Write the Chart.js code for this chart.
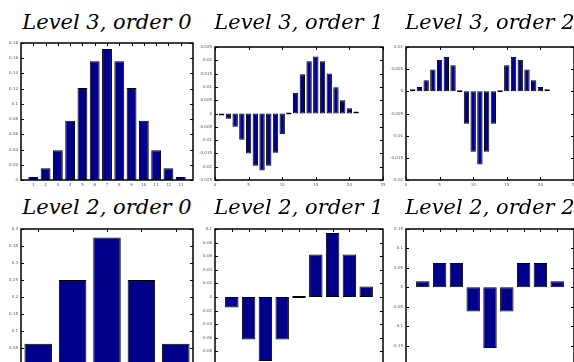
<!DOCTYPE html>
<html>
<head>
<meta charset="utf-8">
<script src="https://cdn.jsdelivr.net/npm/chart.js@4.4.1/dist/chart.umd.min.js"></script>
<style>
  html, body { margin: 0; padding: 0; width: 574px; height: 362px; overflow: hidden; background: #fff; }
  canvas { position: absolute; }
  .title {
    position: absolute;
    font-family: "DejaVu Serif", serif;
    font-style: italic;
    font-size: 21px;
    line-height: 21px;
    white-space: nowrap;
    transform: translateX(-50%);
    color: #000;
  }
</style>
</head>
<body>
<script>
// positions of the bars
const pos13 = [1, 2, 3, 4, 5, 6, 7, 8, 9, 10, 11, 12, 13]
const pos21 = [1, 2, 3, 4, 5, 6, 7, 8, 9, 10, 11, 12, 13, 14, 15, 16, 17, 18, 19, 20, 21]
const pos5 = [1, 2, 3, 4, 5]
const pos9 = [1, 2, 3, 4, 5, 6, 7, 8, 9]

// bar heights
const level3Order0 = [0.0039, 0.0156, 0.039, 0.078, 0.121, 0.156, 0.172, 0.156, 0.121, 0.078, 0.039, 0.0156, 0.0039]
const level3Order1 = [-0.0006, -0.002, -0.005, -0.0099, -0.015, -0.0196, -0.0214, -0.0196, -0.0148, -0.0078, 0,
                      0.0078, 0.0148, 0.0196, 0.0214, 0.0196, 0.015, 0.0099, 0.005, 0.002, 0.0006]
const level3Order2 = [0.0004, 0.001, 0.0025, 0.0049, 0.0071, 0.0078, 0.0059, 0, -0.0073, -0.0136, -0.0165,
                      -0.0136, -0.0073, 0, 0.0059, 0.0078, 0.0071, 0.0049, 0.0025, 0.001, 0.0004]
const level2Order0 = [0.0625, 0.25, 0.375, 0.25, 0.0625]
const level2Order1 = [-0.0156, -0.0625, -0.094, -0.0625, 0, 0.0625, 0.094, 0.0625, 0.0156]
const level2Order2 = [0.0156, 0.0625, 0.0625, -0.0625, -0.156, -0.0625, 0.0625, 0.0625, 0.0156]

// tick labels
const xTicks13 = [1, 2, 3, 4, 5, 6, 7, 8, 9, 10, 11, 12, 13]
const xTicks25 = [0, 5, 10, 15, 20, 25]
const xTicks5 = [1, 2, 3, 4, 5]
const xTicks9 = [1, 2, 3, 4, 5, 6, 7, 8, 9]
const yTicksL3o0 = [0, 0.02, 0.04, 0.06, 0.08, 0.1, 0.12, 0.14, 0.16, 0.18]
const yTicksL3o1 = [-0.025, -0.02, -0.015, -0.01, -0.005, 0, 0.005, 0.01, 0.015, 0.02, 0.025]
const yTicksL3o2 = [-0.02, -0.015, -0.01, -0.005, 0, 0.005, 0.01]
const yTicksL2o0 = [0, 0.05, 0.1, 0.15, 0.2, 0.25, 0.3, 0.35, 0.4]
const yTicksL2o1 = [-0.1, -0.08, -0.06, -0.04, -0.02, 0, 0.02, 0.04, 0.06, 0.08, 0.1]
const yTicksL2o2 = [-0.2, -0.15, -0.1, -0.05, 0, 0.05, 0.1, 0.15]

const titles = ['Level 3, order 0', 'Level 3, order 1', 'Level 3, order 2',
                'Level 2, order 0', 'Level 2, order 1', 'Level 2, order 2']

const plots = [
  { xs: pos13, ys: level3Order0, xLim: [0, 14], yLim: [0, 0.18], xTicks: xTicks13, yTicks: yTicksL3o0 },
  { xs: pos21, ys: level3Order1, xLim: [0, 25], yLim: [-0.025, 0.025], xTicks: xTicks25, yTicks: yTicksL3o1 },
  { xs: pos21, ys: level3Order2, xLim: [0, 25], yLim: [-0.02, 0.01], xTicks: xTicks25, yTicks: yTicksL3o2 },
  { xs: pos5, ys: level2Order0, xLim: [0.5, 5.5], yLim: [0, 0.4], xTicks: xTicks5, yTicks: yTicksL2o0 },
  { xs: pos9, ys: level2Order1, xLim: [0, 10], yLim: [-0.1, 0.1], xTicks: xTicks9, yTicks: yTicksL2o1 },
  { xs: pos9, ys: level2Order2, xLim: [0, 10], yLim: [-0.2, 0.15], xTicks: xTicks9, yTicks: yTicksL2o2 },
]

// plot boxes on the page: left, top, right, bottom
const boxes = [
  [21, 43, 193, 180], [215, 47, 383, 180], [406, 47, 574, 180],
  [21, 229, 193, 365], [215, 229, 383, 365], [406, 229, 574, 365],
]
const titleY = [12, 12, 12, 197, 197, 197]

const YW = 22   // room for the y labels
const XH = 10   // room for the x labels
const PAD = 6

// matplotlib style frame with ticks pointing inwards on all sides
const frame = {
  id: 'frame',
  afterDatasetsDraw(chart) {
    const { ctx, chartArea: a, scales: { x, y } } = chart
    const line = (x1, y1, x2, y2) => { ctx.beginPath(); ctx.moveTo(x1, y1); ctx.lineTo(x2, y2); ctx.stroke() }
    ctx.save()
    ctx.strokeStyle = '#000'
    ctx.lineWidth = 1
    x.ticks.forEach(t => {
      const px = Math.round(x.getPixelForValue(t.value)) + 0.5
      line(px, a.top, px, a.top + 3)
      line(px, a.bottom, px, a.bottom - 3)
    })
    y.ticks.forEach(t => {
      const py = Math.round(y.getPixelForValue(t.value)) + 0.5
      line(a.left, py, a.left + 3, py)
      line(a.right, py, a.right - 3, py)
    })
    ctx.lineWidth = 1.5
    ctx.strokeRect(a.left, a.top, a.right - a.left, a.bottom - a.top)
    ctx.restore()
  }
}

const fmt = v => String(parseFloat(Number(v).toFixed(6)))

plots.forEach((p, i) => {
  const [l, t, r, b] = boxes[i]
  const canvas = document.createElement('canvas')
  canvas.width = (r - l) + YW + PAD
  canvas.height = (b - t) + PAD + XH
  canvas.style.left = (l - YW) + 'px'
  canvas.style.top = (t - PAD) + 'px'
  document.body.appendChild(canvas)

  const title = document.createElement('div')
  title.className = 'title'
  title.textContent = titles[i]
  title.style.left = ((l + r) / 2) + 'px'
  title.style.top = titleY[i] + 'px'
  document.body.appendChild(title)

  const tickFont = { family: 'DejaVu Sans', size: 4 }

  new Chart(canvas, {
    type: 'bar',
    data: {
      datasets: [{
        data: p.xs.map((x, k) => ({ x, y: p.ys[k] })),
        backgroundColor: '#00008b',
        borderColor: '#000',
        borderWidth: 1,
        borderSkipped: false,
        barPercentage: 0.8,
        categoryPercentage: 1,
        minBarLength: 2,
      }]
    },
    options: {
      responsive: false,
      animation: false,
      layout: { padding: { top: PAD, right: PAD, left: 0, bottom: 0 } },
      plugins: { legend: { display: false }, tooltip: { enabled: false } },
      scales: {
        x: {
          type: 'linear',
          offset: false,
          min: p.xLim[0],
          max: p.xLim[1],
          grid: { display: false, drawTicks: false },
          border: { display: false },
          afterBuildTicks: s => { s.ticks = p.xTicks.map(value => ({ value })) },
          afterFit: s => { s.height = XH },
          ticks: { font: tickFont, color: '#555', padding: 3, maxRotation: 0, autoSkip: false, callback: fmt },
        },
        y: {
          min: p.yLim[0],
          max: p.yLim[1],
          beginAtZero: false,
          grid: { display: false, drawTicks: false },
          border: { display: false },
          afterBuildTicks: s => { s.ticks = p.yTicks.map(value => ({ value })) },
          afterFit: s => { s.width = YW },
          ticks: { font: tickFont, color: '#555', padding: 3, autoSkip: false, callback: fmt },
        }
      }
    },
    plugins: [frame]
  })
})
</script>
</body>
</html>
